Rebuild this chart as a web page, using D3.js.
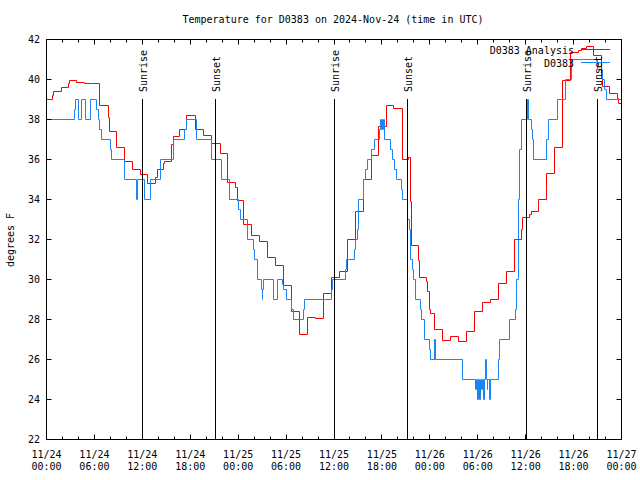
<!DOCTYPE html>
<html><head><meta charset="utf-8">
<script src="https://cdn.jsdelivr.net/npm/d3@7"></script>
<style>
body{margin:0;background:#fff;}
svg{display:block;}
text{font-family:"DejaVu Sans Mono",monospace;font-size:10px;fill:#000;}
</style>
</head><body><svg id="c" width="640" height="480"></svg>
<script>
const chartTitle = "Temperature for D0383 on 2024-Nov-24 (time in UTC)";
const yAxisTitle = "degrees F";
const seriesNames = ["D0383 Analysis", "D0383"];
const seriesColors = ["#ff0000", "#1a86f5"];

// x ticks: hours since 11/24 00:00 UTC
const xTickHours = [0, 6, 12, 18, 24, 30, 36, 42, 48, 54, 60, 66, 72];
const xTickDates = ["11/24","11/24","11/24","11/24","11/25","11/25","11/25","11/25","11/26","11/26","11/26","11/26","11/27"];
const xTickTimes = ["00:00","06:00","12:00","18:00","00:00","06:00","12:00","18:00","00:00","06:00","12:00","18:00","00:00"];
const yTickValues = [22, 24, 26, 28, 30, 32, 34, 36, 38, 40, 42];

// sun events
const sunLabels = ["Sunrise","Sunset","Sunrise","Sunset","Sunrise","Sunset"];
const sunHours = [12.03, 21.13, 36.05, 45.16, 60.05, 69.05];

// D0383 Analysis (hours, degF)
const analysisHours = [0,0.71,0.84,1.84,2.71,2.84,3.71,4.71,5.71,6.66,7.71,7.84,8.75,9.75,10.75,11.75,12.66,13.71,13.84,14.66,14.79,15.63,15.71,15.91,16.66,17.59,18.63,19.66,20.71,21.75,22.69,23.71,23.91,24.66,25.71,26.66,27.71,28.71,29.66,30.71,31.66,32.66,33.71,34.71,35.71,36.66,37.66,38.66,39.66,40.66,41.54,42.59,43.5,44.54,45.29,45.59,45.71,46.54,46.66,47.59,47.66,47.91,48.09,48.59,49.59,50.59,51.63,52.59,53.59,54.59,55.59,56.59,57.59,58.63,59.5,59.66,60.5,60.71,61.59,61.66,62.59,62.66,63.63,64.59,65.59,66.63,66.96,67.59,68.54,69.54,69.66,70.5,71.54,71.66,72];
const analysisTemps = [39.0,39.2,39.4,39.6,39.8,39.93,39.87,39.82,39.78,38.7,38.08,37.4,36.6,35.9,35.5,35.25,34.8,35.1,35.5,35.8,35.9,36.2,36.75,37.17,37.5,38.2,37.5,37.2,36.8,36.3,34.83,34.6,33.95,32.75,32.2,31.9,31.1,30.7,29.7,28.4,27.25,28.1,28.03,29.3,30.1,30.4,32.0,33.4,35.0,36.2,37.67,38.7,38.55,36.0,36.1,33.9,31.7,30.95,30.1,29.9,29.4,28.5,28.3,27.5,26.93,27.17,26.9,27.4,28.4,28.83,29.0,29.8,30.4,32.0,32.5,33.1,33.25,33.4,33.7,34.0,34.6,35.3,36.6,39.95,41.33,41.47,41.53,41.65,41.2,40.03,39.67,39.3,39.05,38.8,38.8];

// D0383 observations (hours, degF)
const obsHours = [0,3.46,3.63,3.96,4.38,4.88,5.54,6.25,6.46,6.66,6.84,8.0,8.13,9.79,11.31,11.38,11.44,12.29,13.04,14.29,15.91,17.31,17.59,18.84,20.63,21.88,22.91,24.04,24.25,25.19,25.91,26.04,26.41,26.96,27.03,27.09,27.16,28.38,28.88,29.54,29.66,30.0,30.66,30.91,32.16,32.34,35.63,35.84,37.46,37.59,38.54,38.66,38.91,39.04,39.66,40.0,40.16,40.66,41.04,41.71,41.78,41.88,42.0,42.13,42.25,42.34,43.13,43.38,43.63,43.84,44.46,44.59,45.16,45.41,45.54,45.63,45.79,45.91,46.25,46.84,46.96,47.29,47.91,48.04,48.54,48.59,48.63,48.68,52.04,53.75,53.84,53.94,54.13,54.21,54.34,54.5,54.56,54.75,54.81,54.96,55.04,55.09,55.21,55.28,55.5,55.56,56.54,56.66,56.75,58.0,58.71,58.81,58.91,59.04,59.16,59.25,59.46,60.21,60.41,60.71,60.81,61.04,62.59,62.91,64.04,64.96,65.71,69.04,69.59,69.84,70.09,72];
const obsTemps = [38,38.5,39,38,39,38,39,38.5,38,37.5,37,36.5,36,35,34,34.5,35,34,35,36,37,37.5,38,37,36,35,34,33.5,33,32,31.5,31,30,29.5,29,29.5,30,29,30,29.75,29.5,29,28.5,28,28.5,29,29.5,30,30.5,31,31.5,32,32.5,34,35,35.5,36,36.5,37,37.5,38,37.5,38,37.5,38,37,36.5,36,35.5,35,34.5,34,33,32.5,32,31,30.5,30,29,28.5,28,27,26.5,26,27,26,27,26,25,24.5,25,24,25,24,25,24.5,25,24,25,26,25.5,25,24.5,25,24,25,25.5,26,27,28,28.5,29.5,30,32,34,36.5,38,39,38,37.5,37,36,37,38,39,40,41,40.5,40,39.5,39,39];

const svg = d3.select("#c");
const x = d3.scaleLinear().domain([0, 72]).range([46.5, 621.5]);
const y = d3.scaleLinear().domain([22, 42]).range([439.5, 39.5]);
const px = t => Math.round(x(t) - 0.5) + 0.5;
const py = v => Math.round(y(v) - 0.5) + 0.5;

const g = svg.append("g");

// data lines (analysis first, observations on top)
const line = d3.line().x(d => px(d[0])).y(d => py(d[1])).curve(d3.curveStepAfter);
const analysis = analysisHours.map((h, i) => [h, analysisTemps[i]]);
const obs = obsHours.map((h, i) => [h, obsTemps[i]]);
[analysis, obs].forEach((data, i) => {
  g.append("path").datum(data).attr("d", line)
    .attr("fill", "none").attr("stroke", seriesColors[i]).attr("stroke-width", 1);
});

// sun lines + labels
sunHours.forEach((h, i) => {
  g.append("line").attr("x1", px(h)).attr("x2", px(h)).attr("y1", 99).attr("y2", y(22))
    .attr("stroke", "#000").attr("stroke-width", 1);
  g.append("text").attr("transform", `translate(${px(h) + 4.5},92) rotate(-90)`)
    .attr("text-anchor", "start").text(sunLabels[i]);
});

// border
g.append("rect").attr("x", x(0)).attr("y", y(42)).attr("width", x(72) - x(0)).attr("height", y(22) - y(42))
  .attr("fill", "none").attr("stroke", "#000").attr("stroke-width", 1);

// x ticks (major every 6h, minor every 2h)
const xAllTicks = d3.range(0, 73, 2);
xAllTicks.forEach(h => {
  const len = (h % 6 === 0) ? 5 : 3;
  g.append("line").attr("x1", px(h)).attr("x2", px(h)).attr("y1", y(22)).attr("y2", y(22) - len)
    .attr("stroke", "#000");
  g.append("line").attr("x1", px(h)).attr("x2", px(h)).attr("y1", y(42)).attr("y2", y(42) + len)
    .attr("stroke", "#000");
});
xTickHours.forEach((h, i) => {
  g.append("text").attr("x", x(h)).attr("y", 458).attr("text-anchor", "middle").text(xTickDates[i]);
  g.append("text").attr("x", x(h)).attr("y", 470).attr("text-anchor", "middle").text(xTickTimes[i]);
});

// y ticks
yTickValues.forEach(v => {
  g.append("line").attr("x1", x(0)).attr("x2", x(0) + 5).attr("y1", py(v)).attr("y2", py(v))
    .attr("stroke", "#000");
  g.append("line").attr("x1", x(72)).attr("x2", x(72) - 5).attr("y1", py(v)).attr("y2", py(v))
    .attr("stroke", "#000");
  g.append("text").attr("x", 40).attr("y", y(v) + 3.5).attr("text-anchor", "end").text(v);
});

// titles
svg.append("text").attr("x", 333).attr("y", 23).attr("text-anchor", "middle").text(chartTitle);
svg.append("text").attr("transform", "translate(13.5,240) rotate(-90)").attr("text-anchor", "middle").text(yAxisTitle);

// legend
const legendY = [49.5, 62.5];
seriesNames.forEach((name, i) => {
  svg.append("text").attr("x", 574).attr("y", legendY[i] + 4).attr("text-anchor", "end").text(name);
  svg.append("line").attr("x1", 581).attr("x2", 610).attr("y1", legendY[i]).attr("y2", legendY[i])
    .attr("stroke", seriesColors[i]).attr("stroke-width", 1);
});
</script>
</body></html>
